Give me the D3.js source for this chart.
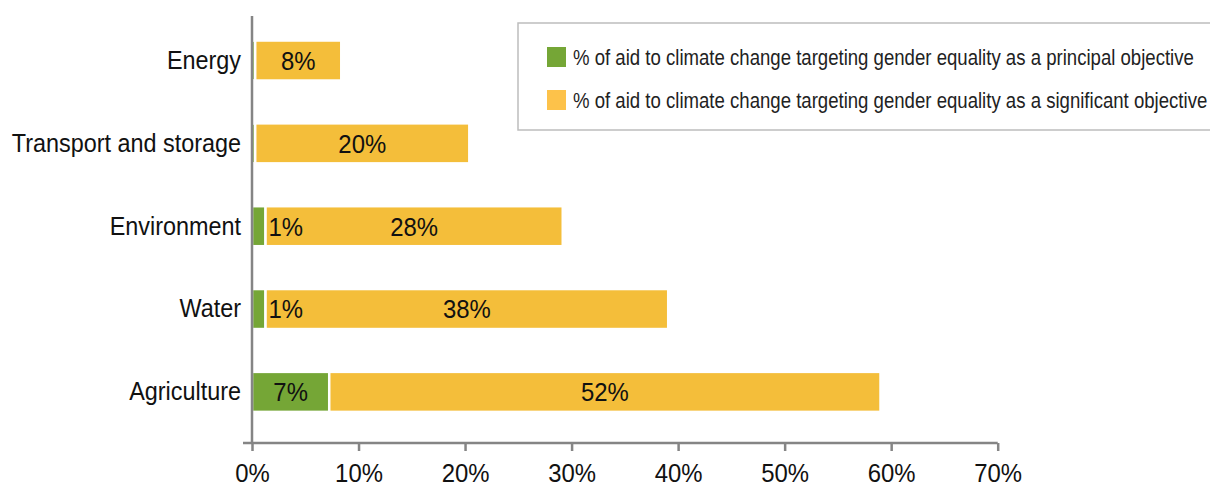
<!DOCTYPE html>
<html>
<head>
<meta charset="utf-8">
<script src="https://cdn.jsdelivr.net/npm/d3@7"></script>
<style>
  body { margin: 0; background: #fff; }
  svg text { font-family: "Liberation Sans", Arial, sans-serif; fill: #111; }
  .cat-label, .bar-label, .tick-label { font-size: 26px; }
  .legend-text { font-size: 22px; fill: #222; }
</style>
</head>
<body>
<div id="content"></div>
<script>
const CATEGORIES = ['Energy', 'Transport and storage', 'Environment', 'Water', 'Agriculture'];
// % of aid to climate change targeting gender equality as a principal objective
const PRINCIPAL = [0.3, 0.3, 1.27, 1.27, 7.25];
// % of aid to climate change targeting gender equality as a significant objective
const SIGNIFICANT = [8.08, 20.1, 27.9, 37.8, 51.75];
const X_TICKS = [0, 10, 20, 30, 40, 50, 60, 70];
const SERIES_NAMES = [
    '% of aid to climate change targeting gender equality as a principal objective',
    '% of aid to climate change targeting gender equality as a significant objective'
];

var width = 1210;
var height = 490;

var green = '#75a636';
var yellow = '#f4be3a';
var axisColor = '#858585';

// no narrow font installed, so squeeze the text horizontally to look condensed
function condense(sel, factor) {
    sel.each(function () {
        var t = d3.select(this);
        var x = +t.attr('x') || 0;
        var y = +t.attr('y') || 0;
        t.attr('x', 0)
        .attr('y', 0)
        .attr('transform', 'translate(' + x + ',' + y + ') scale(' + factor + ',1)');
    });
}

var svg = d3.select('#content')
.append('svg')
.attr('width', width)
.attr('height', height);

var xScale = d3.scaleLinear()
.domain([0, 70])
.range([252, 997.7]);

var yScale = d3.scaleBand()
.domain(CATEGORIES)
.range([19.1, 433.3])
.paddingInner(0.517)
.paddingOuter(0.2585);

var rows = CATEGORIES.map(function (c, i) {
    return {cat: c, p: PRINCIPAL[i], s: SIGNIFICANT[i]};
});

var fmt = function (v) { return d3.format('.0f')(v) + '%'; };

// principal bars
svg.selectAll('.bar-p')
.data(rows)
.enter()
.append('rect')
.attr('class', 'bar-p')
.attr('x', xScale(0))
.attr('y', function (d) { return yScale(d.cat); })
.attr('width', function (d) { return xScale(d.p) - xScale(0); })
.attr('height', yScale.bandwidth())
.attr('fill', green)
.attr('stroke', '#fff')
.attr('stroke-width', 2.5);

// significant bars
svg.selectAll('.bar-s')
.data(rows)
.enter()
.append('rect')
.attr('class', 'bar-s')
.attr('x', function (d) { return xScale(d.p); })
.attr('y', function (d) { return yScale(d.cat); })
.attr('width', function (d) { return xScale(d.p + d.s) - xScale(d.p); })
.attr('height', yScale.bandwidth())
.attr('fill', yellow)
.attr('stroke', '#fff')
.attr('stroke-width', 2.5);

// value labels
var labelsP = svg.selectAll('.label-p')
.data(rows.filter(function (d) { return d.p >= 0.5; }))
.enter()
.append('text')
.attr('class', 'bar-label')
.attr('x', function (d) {
    var w = xScale(d.p) - xScale(0);
    return w > 40 ? (xScale(0) + xScale(d.p)) / 2 : xScale(d.p) + 3;
})
.attr('text-anchor', function (d) {
    return (xScale(d.p) - xScale(0)) > 40 ? 'middle' : 'start';
})
.attr('y', function (d) { return yScale(d.cat) + yScale.bandwidth() / 2; })
.attr('dy', '0.36em')
.text(function (d) { return fmt(d.p); });

var labelsS = svg.selectAll('.label-s')
.data(rows)
.enter()
.append('text')
.attr('class', 'bar-label')
.attr('x', function (d) { return (xScale(d.p) + xScale(d.p + d.s)) / 2; })
.attr('text-anchor', 'middle')
.attr('y', function (d) { return yScale(d.cat) + yScale.bandwidth() / 2; })
.attr('dy', '0.36em')
.text(function (d) { return fmt(d.s); });

condense(labelsP, 0.92);
condense(labelsS, 0.92);

// x axis
var xAxis = d3.axisBottom(xScale)
.tickValues(X_TICKS)
.tickFormat(function (d) { return d + '%'; })
.tickSizeInner(8)
.tickSizeOuter(0)
.tickPadding(13);

var gx = svg.append('g')
.attr('class', 'x-axis')
.attr('transform', 'translate(0, 443)')
.call(xAxis);

gx.select('.domain')
.attr('d', 'M243,0H' + xScale(70))
.attr('stroke', axisColor)
.attr('stroke-width', 2.5);
gx.selectAll('.tick line')
.attr('stroke', axisColor)
.attr('stroke-width', 2.5);
gx.selectAll('.tick text')
.attr('class', 'tick-label')
.attr('fill', '#111')
.attr('font-size', null)
.attr('font-family', null)
.call(condense, 0.92);

// y axis
var yAxis = d3.axisLeft(yScale)
.tickSize(0)
.tickPadding(11);

var gy = svg.append('g')
.attr('class', 'y-axis')
.attr('transform', 'translate(' + xScale(0) + ', 0)')
.call(yAxis);

gy.select('.domain')
.attr('d', 'M0,16V443')
.attr('stroke', axisColor)
.attr('stroke-width', 2.5);
gy.selectAll('.tick text')
.attr('class', 'cat-label')
.attr('fill', '#111')
.attr('font-size', null)
.attr('font-family', null)
.call(condense, 0.9);

// legend
var legend = svg.append('g').attr('class', 'legend');

legend.append('rect')
.attr('x', 518)
.attr('y', 23)
.attr('width', 720)
.attr('height', 107)
.attr('fill', '#fff')
.attr('stroke', '#bdbdbd')
.attr('stroke-width', 1.5);

var legendItems = legend.selectAll('.legend-item')
.data(SERIES_NAMES)
.enter()
.append('g')
.attr('class', 'legend-item')
.attr('transform', function (d, i) { return 'translate(547, ' + (47 + i * 43) + ')'; });

legendItems.append('rect')
.attr('width', 19)
.attr('height', 20)
.attr('fill', function (d, i) { return i === 0 ? green : '#fdc24a'; });

legendItems.append('text')
.attr('class', 'legend-text')
.attr('x', 26)
.attr('y', 10)
.attr('dy', '0.36em')
.text(function (d) { return d; })
.call(condense, 0.845);
</script>
</body>
</html>
